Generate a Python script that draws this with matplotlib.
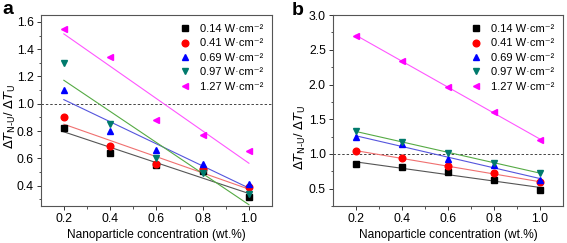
import numpy as np
import matplotlib
matplotlib.use("Agg")
import matplotlib.pyplot as plt
from matplotlib.ticker import MultipleLocator, FormatStrFormatter, FixedLocator

plt.rcParams['font.family'] = ['Liberation Sans', 'DejaVu Sans']
plt.rcParams['mathtext.fontset'] = 'dejavusans'

# concentrations (wt.%)
conc = [0.2, 0.4, 0.6, 0.8, 1.0]
powers = ["0.14", "0.41", "0.69", "0.97", "1.27"]

# panel a
a_014 = [0.82, 0.64, 0.55, 0.51, 0.32]
a_041 = [0.90, 0.69, 0.56, 0.52, 0.39]
a_069 = [1.10, 0.80, 0.66, 0.56, 0.41]
a_097 = [1.30, 0.85, 0.60, 0.49, 0.34]
a_127 = [1.55, 1.34, 0.88, 0.77, 0.65]

# panel b
b_014 = [0.85, 0.81, 0.74, 0.63, 0.48]
b_041 = [1.04, 0.94, 0.83, 0.72, 0.59]
b_069 = [1.24, 1.14, 0.93, 0.84, 0.62]
b_097 = [1.33, 1.17, 1.02, 0.87, 0.73]
b_127 = [2.70, 2.34, 1.97, 1.60, 1.20]

markers = ['s', 'o', '^', 'v', '<']
mcolors = ['#000000', '#ff0000', '#0000ff', '#007a6c', '#ff00ff']
lcolors = ['#555555', '#f07070', '#5555dd', '#55aa44', '#ff55ff']

YLABEL = (r"$\mathit{\Delta T}_{\mathrm{N" + "\u2010" + r"U}}$/ "
          r"$\mathit{\Delta T}_{\mathrm{U}}$")

fig = plt.figure(figsize=(5.67, 2.43), dpi=100)
ax_a = fig.add_axes([0.0718, 0.152, 0.408, 0.786])
ax_b = fig.add_axes([0.587, 0.152, 0.406, 0.786])


def draw(ax, series, ylim, ymaj, ymin):
    x = np.array(conc)
    for i, ys in enumerate(series):
        k, b = np.polyfit(x, ys, 1)
        ax.plot(x, k * x + b, color=lcolors[i], lw=0.8, zorder=2)
        ax.plot(x, ys, linestyle='none', marker=markers[i], ms=4.8,
                color=mcolors[i], mec=mcolors[i],
                label=powers[i] + " W\u00b7cm\u207b\u00b2", zorder=3)
    ax.axhline(1.0, color='#444444', lw=0.7, ls=(0, (2.5, 2)), zorder=1)
    ax.set_xlim(0.1, 1.1)
    ax.set_ylim(*ylim)
    ax.xaxis.set_major_locator(FixedLocator(conc))
    ax.xaxis.set_minor_locator(FixedLocator([0.3, 0.5, 0.7, 0.9]))
    ax.xaxis.set_major_formatter(FormatStrFormatter('%.1f'))
    ax.yaxis.set_major_locator(MultipleLocator(ymaj))
    ax.yaxis.set_minor_locator(MultipleLocator(ymin))
    ax.yaxis.set_major_formatter(FormatStrFormatter('%.1f'))
    ax.tick_params(which='major', direction='out', length=3, width=0.7,
                   labelsize=8.8, color='#333333', pad=2)
    ax.tick_params(which='minor', direction='out', length=1.8, width=0.6,
                   color='#333333')
    for s in ax.spines.values():
        s.set_color('#555555')
        s.set_linewidth(0.8)
    ax.set_xlabel("Nanoparticle concentration (wt.%)", fontsize=8.6, labelpad=3)
    ax.set_ylabel(YLABEL, fontsize=9.3)
    ax.legend(loc='upper right', frameon=False, fontsize=8, handletextpad=0.8,
              handlelength=1.0, labelspacing=0.4, borderaxespad=0.4)


draw(ax_a, [a_014, a_041, a_069, a_097, a_127], (0.25, 1.65), 0.2, 0.1)
draw(ax_b, [b_014, b_041, b_069, b_097, b_127], (0.25, 3.0), 0.5, 0.25)
ax_a.yaxis.set_label_coords(-0.1, 0.47)
ax_b.yaxis.set_label_coords(-0.11, 0.36)

fig.text(0.005, 0.995, "a", fontsize=14, fontweight='bold', va='top', ha='left')
fig.text(0.515, 0.99, "b", fontsize=14, fontweight='bold', va='top', ha='left')

fig.savefig("out.png", dpi=100)
